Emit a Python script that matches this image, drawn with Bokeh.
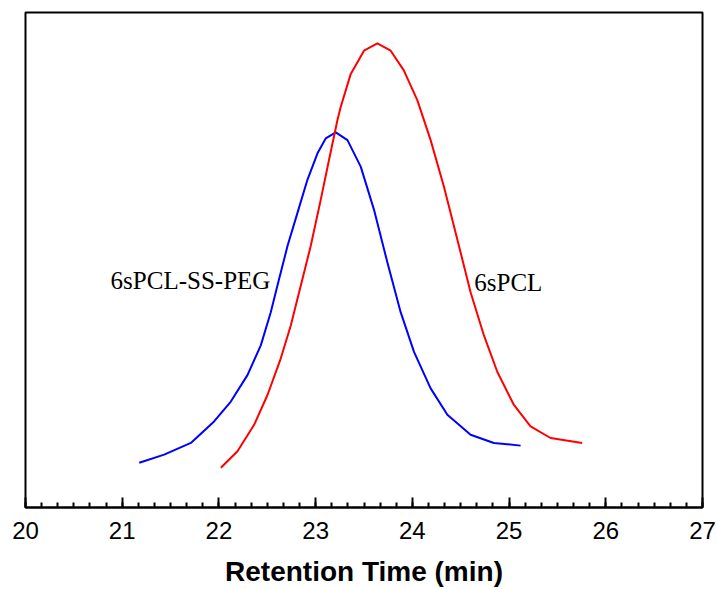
from bokeh.plotting import figure
from bokeh.models import Range1d, FixedTicker, Label
from bokeh.embed import file_html
from bokeh.resources import INLINE

# Retention time (min) and detector response (arbitrary units)
peg_time = [21.176, 21.434, 21.710, 21.950, 22.123, 22.295, 22.433, 22.536, 22.622,
            22.709, 22.812, 22.915, 23.019, 23.104, 23.208, 23.329, 23.466, 23.603,
            23.742, 23.879, 24.017, 24.189, 24.362, 24.602, 24.843, 25.119]
peg_signal = [9.03, 10.69, 13.04, 17.39, 21.40, 26.74, 32.76, 39.46, 46.14,
              52.82, 59.52, 66.20, 71.56, 74.56, 75.77, 74.22, 68.87, 60.18,
              49.49, 39.46, 31.43, 24.07, 18.72, 14.70, 13.04, 12.50]

pcl_time = [22.020, 22.192, 22.364, 22.502, 22.639, 22.743, 22.846, 22.949, 23.053,
            23.138, 23.225, 23.259, 23.363, 23.500, 23.638, 23.776, 23.913, 24.052,
            24.189, 24.326, 24.465, 24.602, 24.740, 24.878, 25.050, 25.222, 25.429,
            25.756]
pcl_signal = [8.02, 11.37, 16.71, 22.73, 30.09, 36.77, 44.79, 52.82, 62.19,
              70.21, 78.23, 80.90, 87.60, 92.28, 93.74, 92.28, 88.26, 82.25,
              74.22, 64.86, 54.16, 43.47, 34.76, 27.42, 20.72, 16.39, 14.04,
              13.04]

x_ticks = [20, 21, 22, 23, 24, 25, 26, 27]
x_label = "Retention Time (min)"
series_names = ["6sPCL-SS-PEG", "6sPCL"]

p = figure(width=717, height=589, output_backend="svg", toolbar_location=None,
           x_range=Range1d(20, 27), y_range=Range1d(0, 100),
           min_border_left=25, min_border_right=15, min_border_top=12, min_border_bottom=79)

p.line(peg_time, peg_signal, line_color="#0000ff", line_width=2, line_join="round")
p.line(pcl_time, pcl_signal, line_color="#ff0000", line_width=2, line_join="round")

p.grid.visible = False
p.yaxis.visible = False
p.outline_line_color = "black"
p.outline_line_width = 2

ax = p.xaxis[0]
ax.ticker = FixedTicker(ticks=x_ticks,
                        minor_ticks=[20 + i / 6 for i in range(0, 43)])
ax.axis_line_width = 2
ax.major_tick_in = 10
ax.major_tick_out = 0
ax.minor_tick_in = 5
ax.minor_tick_out = 0
ax.major_tick_line_width = 2
ax.minor_tick_line_width = 2
ax.major_label_text_font = "Liberation Sans"
ax.major_label_text_font_size = "24px"
ax.major_label_text_color = "black"
ax.major_label_standoff = 14
ax.axis_label = x_label
ax.axis_label_text_font = "Liberation Sans"
ax.axis_label_text_font_style = "bold"
ax.axis_label_text_font_size = "28px"
ax.axis_label_text_color = "black"
ax.axis_label_standoff = 14

p.add_layout(Label(x=20.88, y=45.9, text=series_names[0], text_font="Liberation Serif",
                   text_font_size="25px", text_color="black", text_baseline="alphabetic"))
p.add_layout(Label(x=24.64, y=45.5, text=series_names[1], text_font="Liberation Serif",
                   text_font_size="25px", text_color="black", text_baseline="alphabetic"))

open("out.html", "w").write(file_html(p, INLINE))
